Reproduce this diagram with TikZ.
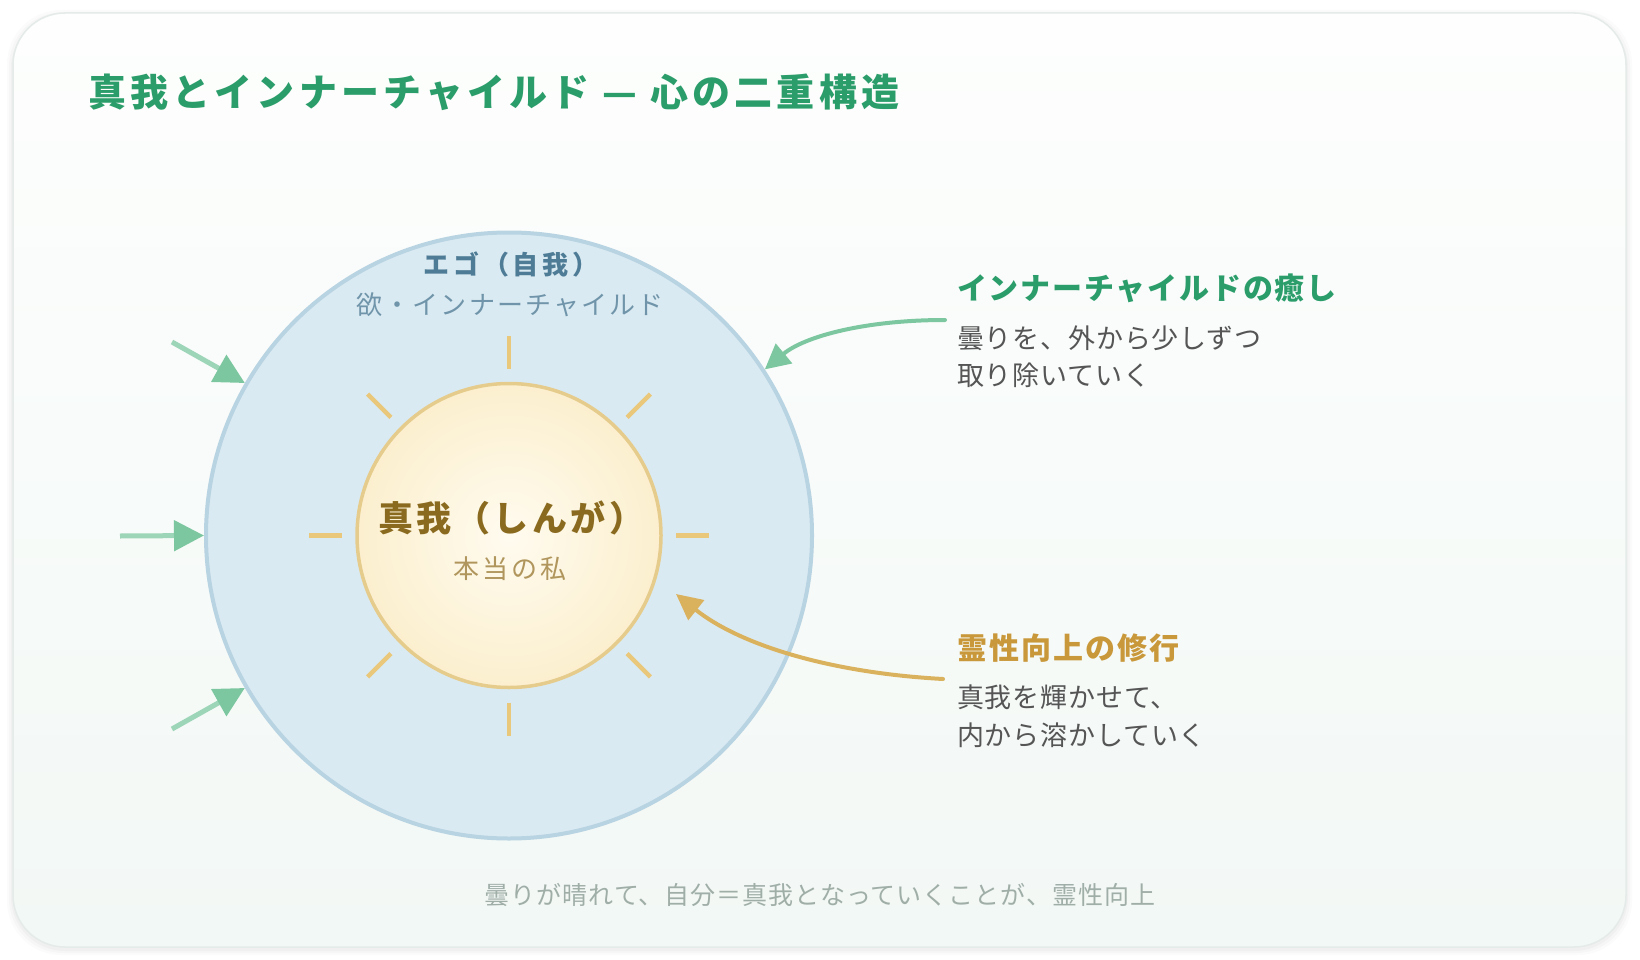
\documentclass[tikz,border=0pt]{standalone}
\usepackage{fontspec}
\setmainfont{Noto Sans CJK JP}
\usetikzlibrary{arrows.meta}
\definecolor{cardtop}{HTML}{FDFEFD}
\definecolor{cardbot}{HTML}{F2F8F5}
\definecolor{cardline}{HTML}{E4EBE8}
\definecolor{titlegreen}{HTML}{2A9D6A}
\definecolor{egofill}{HTML}{DAEAF2}
\definecolor{egoline}{HTML}{B8D3E2}
\definecolor{egotext}{HTML}{4E7C96}
\definecolor{egosub}{HTML}{7095AA}
\definecolor{selfin}{HTML}{FFFBEF}
\definecolor{selfout}{HTML}{FBEFCE}
\definecolor{selfline}{HTML}{E6CC8C}
\definecolor{raycol}{HTML}{E9C87C}
\definecolor{selftext}{HTML}{8A6A1F}
\definecolor{selfsub}{HTML}{B0965C}
\definecolor{golden}{HTML}{C9983A}
\definecolor{goldarrow}{HTML}{DAB25E}
\definecolor{bodygray}{HTML}{555555}
\definecolor{footgray}{HTML}{A0AEA8}
\definecolor{greenline}{HTML}{9DD5B8}
\definecolor{greenhead}{HTML}{7CC7A0}
\newcommand{\jfont}[3]{\fontsize{#1}{#2}\selectfont\addfontfeatures{LetterSpace=#3}}
\tikzset{
  jtext/.style={inner sep=0pt},
  pusharrow/.style={draw=greenline, line width=5pt,
    -{Triangle[length=30pt,width=30pt,color=greenhead]}},
  healarrow/.style={draw=greenhead, line width=4pt, line cap=round,
    -{Triangle[length=25pt,width=25pt]}},
  practarrow/.style={draw=goldarrow, line width=4pt, line cap=round,
    -{Triangle[length=26pt,width=25pt]}},
  raystyle/.style={draw=raycol, line width=4.5pt},
  heading/.style={jtext, anchor=west},
  bodytext/.style={jtext, anchor=west, align=left, text=bodygray,
    font=\jfont{27}{37.5}{3}},
}
\begin{document}
\begin{tikzpicture}[x=1pt,y=-1pt]
\useasboundingbox (0,0) rectangle (1640,960);
\fill[white] (0,0) rectangle (1640,960);
% soft shadow
\foreach \s/\o in {6/0.015,4/0.02,2/0.025}
  \fill[black, opacity=\o, rounded corners=54pt] (13-\s,13-\s+3) rectangle (1626+\s,947+\s+2);
% card
\path[draw=cardline, line width=1.5pt, rounded corners=52pt,
  top color=cardtop, bottom color=cardbot] (13,13) rectangle (1626,947);

% title
\node[jtext, anchor=west, text=titlegreen, font=\bfseries\jfont{38}{42}{11}]
  (title) at (88,92) {真我とインナーチャイルド — 心の二重構造};

% ego circle
\node[circle, minimum size=606pt, inner sep=0pt, fill=egofill, draw=egoline,
  line width=4pt] (ego) at (509,535.5) {};
% rays
\foreach \a in {0,45,...,315}
  \draw[raystyle, shift={(ego.center)}] (\a:167) -- (\a:200);
% true self circle
\node[circle, minimum size=304pt, inner sep=0pt, inner color=selfin,
  outer color=selfout, draw=selfline, line width=3.5pt] (self) at (509,535.5) {};

\node[jtext, text=egotext, font=\bfseries\jfont{26}{30}{15}]
  (egot) at (511,264) {エゴ（自我）};
\node[jtext, text=egosub, font=\jfont{26}{30}{8}]
  (egos) at (510,305) {欲・インナーチャイルド};
\node[jtext, text=selftext, font=\bfseries\jfont{35}{40}{10}]
  (selft) at (511,518) {真我（しんが）};
\node[jtext, text=selfsub, font=\jfont{26}{30}{11}]
  (selfs) at (510,569) {本当の私};

% right texts
\node[heading, text=titlegreen, font=\bfseries\jfont{30}{34}{6}] (h1) at (957,288) {インナーチャイルドの癒し};
\node[bodytext] (b1) at (957,356.5) {曇りを、外から少しずつ\\取り除いていく};
\node[heading, text=golden, font=\bfseries\jfont{30}{34}{7}] (h2) at (957,648) {霊性向上の修行};
\node[bodytext] (b2) at (957,716) {真我を輝かせて、\\内から溶かしていく};

% footer
\node[jtext, text=footgray, font=\jfont{25}{30}{4}]
  (foot) at (820,895) {曇りが晴れて、自分＝真我となっていくことが、霊性向上};

% left push arrows
\coordinate (p1) at (172,342);
\coordinate (p2) at (120,536);
\coordinate (p3) at (172,729);
\draw[pusharrow] (p1) -- (ego.150);
\draw[pusharrow] (p2) -- (ego.180);
\draw[pusharrow] (p3) -- (ego.210);

% healing arrow
\coordinate (hs) at (945,320);
\draw[healarrow] (hs) .. controls (866,320) and (805,336) .. (ego.33.5);

% practice arrow
\coordinate (ps) at (943,679);
\coordinate (pt) at (676,594);
\draw[practarrow] (ps) .. controls (828,672.7) and (739,644.3) .. (pt);
\end{tikzpicture}
\end{document}
